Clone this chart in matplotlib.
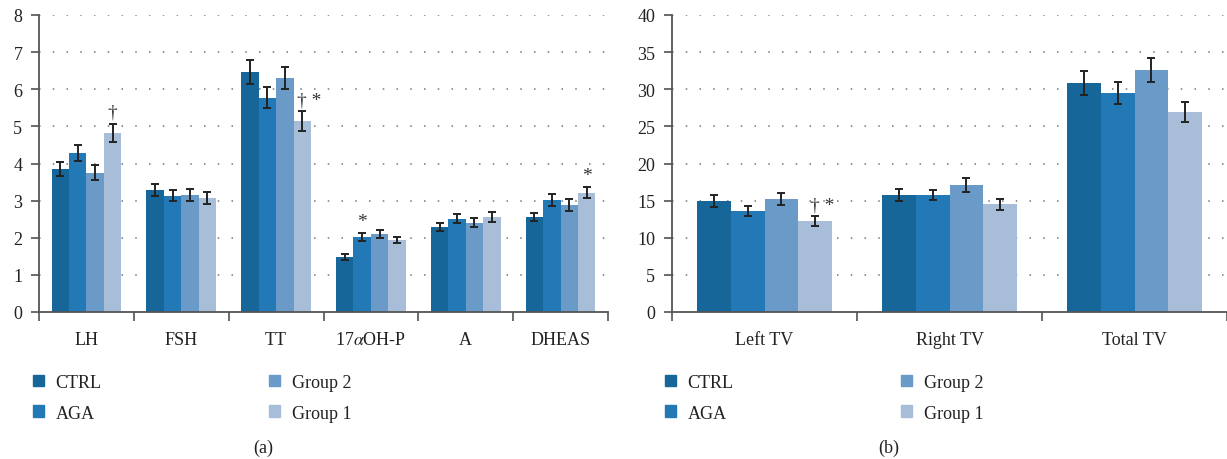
import numpy as np
import matplotlib
matplotlib.use("Agg")
import matplotlib.pyplot as plt
from matplotlib.patches import Patch

plt.rcParams['font.family'] = ['Liberation Serif', 'DejaVu Serif']
plt.rcParams['mathtext.fontset'] = 'stix'

groups = ['CTRL', 'AGA', 'Group 2', 'Group 1']
colors = ['#166699', '#2279b5', '#6a9ac8', '#a8bed8']

# panel (a): hormones
hormones = ['LH', 'FSH', 'TT', '17$\\alpha$OH-P', 'A', 'DHEAS']
horm_means = {
    'CTRL':    [3.85, 3.29, 6.47, 1.48, 2.29, 2.56],
    'AGA':     [4.29, 3.13, 5.77, 2.02, 2.51, 3.02],
    'Group 2': [3.75, 3.15, 6.31, 2.10, 2.40, 2.88],
    'Group 1': [4.82, 3.07, 5.14, 1.94, 2.56, 3.21],
}
horm_err = {
    'CTRL':    [0.19, 0.17, 0.33, 0.08, 0.12, 0.12],
    'AGA':     [0.22, 0.15, 0.28, 0.11, 0.12, 0.17],
    'Group 2': [0.20, 0.16, 0.30, 0.10, 0.12, 0.16],
    'Group 1': [0.25, 0.16, 0.27, 0.09, 0.14, 0.15],
}
# (category index, group, mark)
horm_marks = [(0, 'Group 1', '†'), (2, 'Group 1', '† *'),
              (3, 'AGA', '*'), (5, 'Group 1', '*')]

# panel (b): testicular volume
volumes = ['Left TV', 'Right TV', 'Total TV']
vol_means = {
    'CTRL':    [14.95, 15.75, 30.8],
    'AGA':     [13.6, 15.75, 29.5],
    'Group 2': [15.2, 17.1, 32.6],
    'Group 1': [12.25, 14.5, 26.9],
}
vol_err = {
    'CTRL':    [0.78, 0.80, 1.6],
    'AGA':     [0.70, 0.70, 1.45],
    'Group 2': [0.85, 0.90, 1.6],
    'Group 1': [0.63, 0.70, 1.35],
}
vol_marks = [(0, 'Group 1', '† *')]

W, H = 1227, 460
FS = 13
fig = plt.figure(figsize=(W / 100, H / 100), dpi=100)


def panel(rect, cats, means, errs, marks, ymax, ystep, w):
    ax = fig.add_axes(rect)
    x = np.arange(len(cats))
    for j, g in enumerate(groups):
        xs = x + (j - 1.5) * w
        ax.bar(xs, means[g], width=w, color=colors[j], zorder=2)
        ax.errorbar(xs, means[g], yerr=errs[g], fmt='none', ecolor='#222222',
                    elinewidth=1.4, capsize=3, capthick=1.4, zorder=3)
    for i, g, m in marks:
        j = groups.index(g)
        xm = i + (j - 1.5) * w
        ytop = means[g][i] + errs[g][i]
        ax.annotate(m, (xm, ytop), xytext=(5 if len(m) > 1 else 0, 2),
                    textcoords='offset points', ha='center', va='bottom',
                    fontsize=14, color='#333333')
    ax.set_xlim(-0.5, len(cats) - 0.5)
    ax.set_ylim(0, ymax)
    ax.set_yticks(np.arange(0, ymax + 0.1, ystep))
    ax.set_xticks(x)
    ax.set_xticklabels(cats, fontsize=FS, color='#222222')
    ax.set_xticks(np.arange(-0.5, len(cats)), minor=True)
    ax.tick_params(axis='x', which='major', length=0, pad=14)
    ax.tick_params(axis='x', which='minor', length=6.5, width=1.1, color='#444444')
    ax.tick_params(axis='y', length=6, width=1.1, color='#444444', pad=6,
                   labelsize=FS, labelcolor='#222222')
    for s in ['top', 'right']:
        ax.spines[s].set_visible(False)
    for s in ['left', 'bottom']:
        ax.spines[s].set_color('#555555')
        ax.spines[s].set_linewidth(1.3)
    ax.grid(axis='y', linestyle=(0, (1, 8)), color='#777777', linewidth=1.1)
    ax.set_axisbelow(True)
    return ax


bottom = 1 - 313 / H
height = (313 - 16) / H
ax1 = panel([39 / W, bottom, 569 / W, height], hormones, horm_means, horm_err,
            horm_marks, 8, 1, 0.184)
ax2 = panel([672 / W, bottom, 555 / W, height], volumes, vol_means, vol_err,
            vol_marks, 40, 5, 0.1815)

handles = [Patch(color=c) for c in colors]
for xl in [33 / W, 665 / W]:
    fig.legend(handles, groups, ncol=2, loc='upper left',
               bbox_to_anchor=(xl, 1 - 375 / H), frameon=False, fontsize=FS,
               handlelength=0.6, handleheight=0.6, columnspacing=9.3,
               handletextpad=0.65, labelspacing=0.75, labelcolor='#222222',
               borderpad=0, borderaxespad=0)

fig.text(263 / W, 1 - 448 / H, '(a)', ha='center', va='center', fontsize=FS, color='#222222')
fig.text(889 / W, 1 - 448 / H, '(b)', ha='center', va='center', fontsize=FS, color='#222222')

fig.savefig('out.png', dpi=100)
